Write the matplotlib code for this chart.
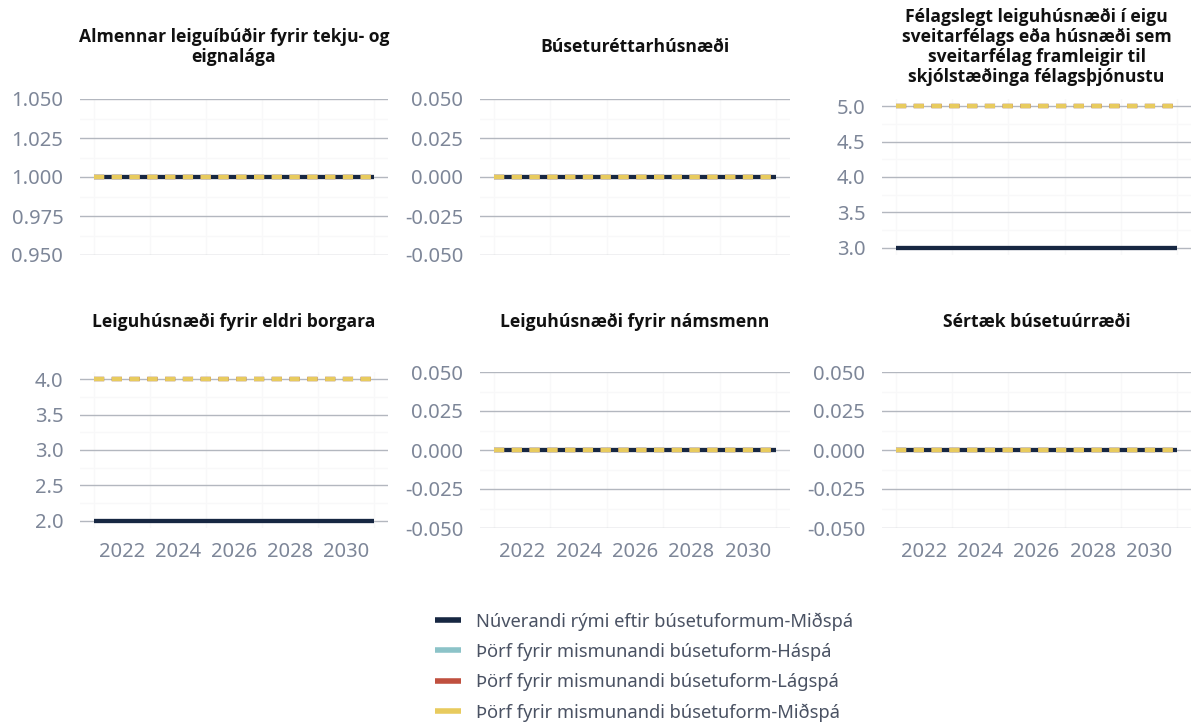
import matplotlib
matplotlib.use("Agg")
import matplotlib.pyplot as plt
from matplotlib.lines import Line2D
import numpy as np

plt.rcParams['font.family'] = ['Noto Sans', 'DejaVu Sans']
plt.rcParams['lines.scale_dashes'] = False

# data
years = list(range(2021, 2032))
titles = [
    "Almennar leiguíbúðir fyrir tekju- og\neignalága",
    "Búseturéttarhúsnæði",
    "Félagslegt leiguhúsnæði í eigu\nsveitarfélags eða húsnæði sem\nsveitarfélag framleigir til\nskjólstæðinga félagsþjónustu",
    "Leiguhúsnæði fyrir eldri borgara",
    "Leiguhúsnæði fyrir námsmenn",
    "Sértæk búsetuúrræði",
]
current_mid = [1, 0, 3, 2, 0, 0]   # Núverandi rými - Miðspá
need_high   = [1, 0, 5, 4, 0, 0]   # Þörf - Háspá
need_low    = [1, 0, 5, 4, 0, 0]   # Þörf - Lágspá
need_mid    = [1, 0, 5, 4, 0, 0]   # Þörf - Miðspá

series_names = [
    "Núverandi rými eftir búsetuformum-Miðspá",
    "Þörf fyrir mismunandi búsetuform-Háspá",
    "Þörf fyrir mismunandi búsetuform-Lágspá",
    "Þörf fyrir mismunandi búsetuform-Miðspá",
]
colors = ["#172742", "#8cc3c8", "#c0503f", "#e8cb5e"]

W, H = 1195, 728
fig = plt.figure(figsize=(W / 100, H / 100), dpi=100)

cols = [(80, 388), (480, 790), (882, 1191)]
rows = [(99, 255), (372, 528)]
title_y = [47, 322]

tick_col = "#7d8698"
dash = (7.3, 5.5)

for i in range(6):
    r, c = divmod(i, 3)
    x0, x1 = cols[c]
    y0, y1 = rows[r]
    ax = fig.add_axes([x0 / W, 1 - y1 / H, (x1 - x0) / W, (y1 - y0) / H])

    lw = 3.1
    ax.plot(years, [current_mid[i]] * len(years), color=colors[0], lw=lw,
            solid_capstyle='butt', zorder=3)
    for vals, col in [(need_high, colors[1]), (need_low, colors[2]), (need_mid, colors[3])]:
        ax.plot(years, [vals[i]] * len(years), color=col, lw=lw,
                dashes=dash, dash_capstyle='butt', zorder=4)

    ax.set_xlim(2020.5, 2031.5)
    v_lo, v_hi = current_mid[i], need_mid[i]
    if v_lo == v_hi:
        ax.set_ylim(v_lo - 0.05, v_lo + 0.05)
        ax.set_yticks(np.linspace(v_lo - 0.05, v_lo + 0.05, 5))
        ax.set_yticklabels([f"{t:.3f}".replace("-0.000", "0.000") for t in ax.get_yticks()])
    else:
        span = v_hi - v_lo
        ax.set_ylim(v_lo - 0.05 * span, v_hi + 0.05 * span)
        ax.set_yticks(np.arange(v_lo, v_hi + 0.01, 0.5))
        ax.set_yticklabels([f"{t:.1f}" for t in ax.get_yticks()])

    ax.set_xticks([2022, 2024, 2026, 2028, 2030])
    ax.set_xticks([2021, 2023, 2025, 2027, 2029, 2031], minor=True)
    yt = ax.get_yticks()
    ax.set_yticks((yt[:-1] + yt[1:]) / 2, minor=True)
    if r == 0:
        ax.set_xticklabels([])

    ax.grid(True, which='major', axis='y', color="#b3b7bf", lw=1.0, zorder=1)
    ax.grid(True, which='minor', color="#f8f8f9", lw=1.0, zorder=0)
    for s in ax.spines.values():
        s.set_visible(False)
    ax.tick_params(which='both', length=0)
    ax.tick_params(axis='y', pad=12, labelsize=14.5, labelcolor=tick_col)
    ax.tick_params(axis='x', pad=10, labelsize=14.5, labelcolor=tick_col)

    fig.text((x0 + x1) / 2 / W, 1 - title_y[r] / H, titles[i], ha='center', va='center',
             fontsize=12.6, fontweight='bold', color="#111111", linespacing=1.15,
             family=['Open Sans', 'DejaVu Sans'])

handles = [Line2D([0], [0], color=col, lw=4, solid_capstyle='butt') for col in colors]
fig.legend(handles, series_names, loc='upper left', bbox_to_anchor=(426 / W, 1 - 603 / H),
           frameon=False, fontsize=13.2, handlelength=1.4, handletextpad=0.85,
           labelspacing=0.67, borderpad=0, labelcolor="#4a5263")

fig.savefig("out.png", dpi=100)
